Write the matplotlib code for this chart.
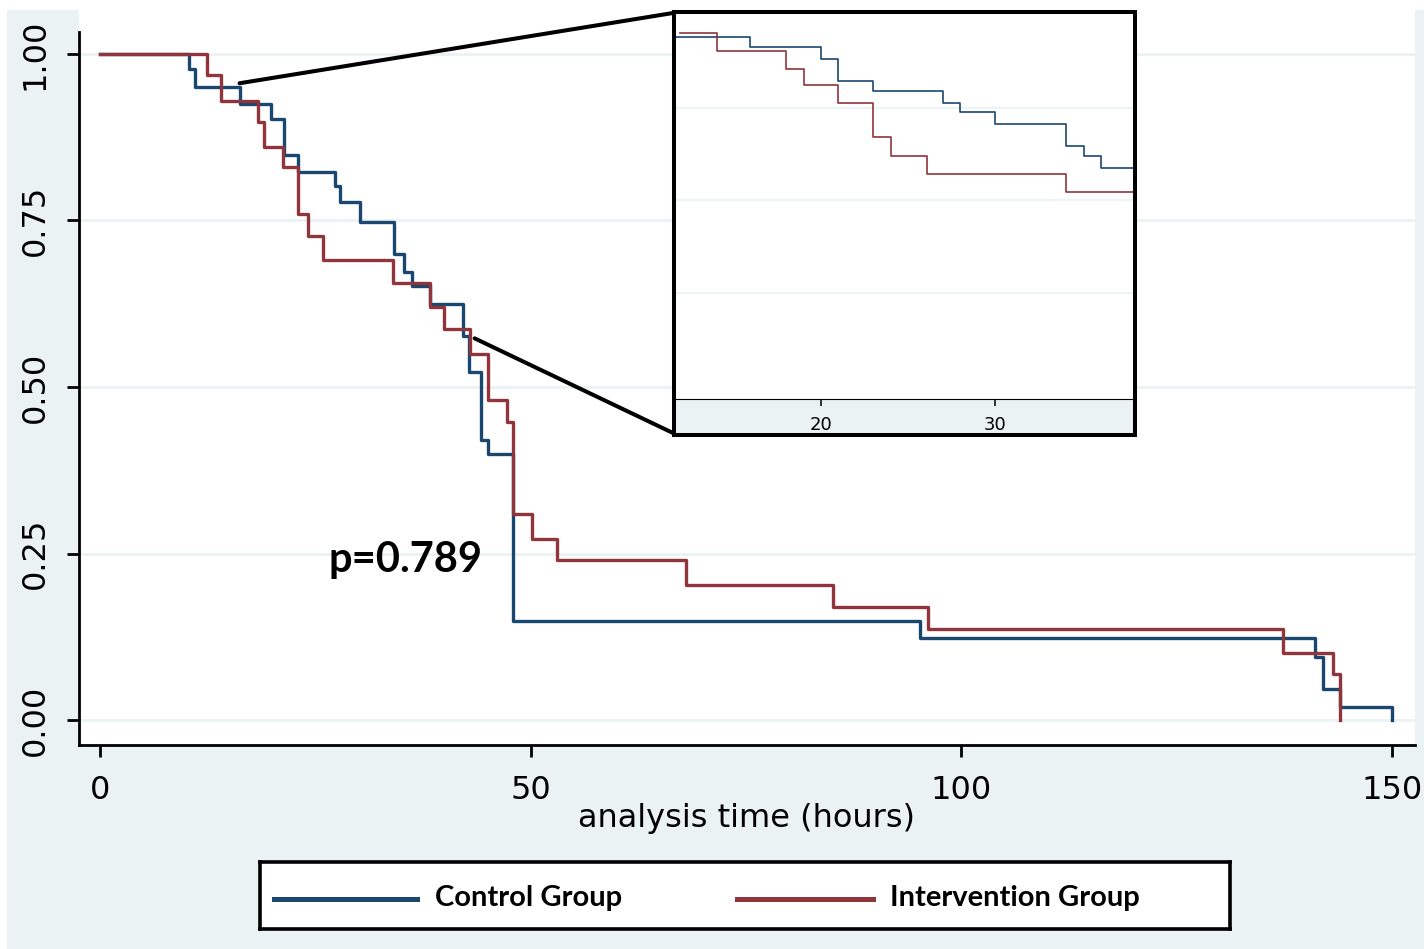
import matplotlib
matplotlib.use("Agg")
import matplotlib.pyplot as plt
from matplotlib.patches import Rectangle, ConnectionPatch

# -----------------------------------------------------
# Data (Kaplan-Meier steps)
# -----------------------------------------------------

control_time = [0, 10.3, 11.0, 16.2, 19.9, 21.4, 23.0, 27.3, 27.9, 30.2, 34.1,
                35.3, 36.2, 38.3, 42.2, 42.9, 44.2, 45.1, 48.0, 95.2, 141.1,
                142.0, 144.0, 150.0]
control_surv = [1.0, 0.978, 0.950, 0.925, 0.903, 0.849, 0.823, 0.802, 0.777,
                0.748, 0.700, 0.673, 0.652, 0.625, 0.577, 0.523, 0.420, 0.399,
                0.148, 0.123, 0.095, 0.047, 0.020, 0.0]

interv_time = [0, 12.4, 14.1, 18.3, 19.0, 21.3, 23.0, 24.2, 25.9, 34.0, 38.3,
               39.9, 43.0, 45.1, 47.3, 48.0, 50.2, 53.1, 68.0, 85.1, 96.1,
               137.3, 143.2, 144.0]
interv_surv = [1.0, 0.968, 0.930, 0.898, 0.861, 0.831, 0.760, 0.727, 0.691,
               0.656, 0.620, 0.587, 0.550, 0.480, 0.448, 0.309, 0.272, 0.240,
               0.203, 0.170, 0.137, 0.101, 0.069, 0.0]

# zoomed inset (its own curves)
inset_control_time = [10.0, 15.9, 20.0, 21.0, 23.0, 27.0, 28.0, 30.0, 34.1, 35.1, 36.1, 40.0]
inset_control_surv = [0.943, 0.914, 0.882, 0.823, 0.797, 0.764, 0.738, 0.706, 0.647, 0.620, 0.587, 0.587]
inset_interv_time = [11.9, 14.0, 18.0, 19.0, 21.0, 23.0, 24.0, 26.1, 34.1, 40.0]
inset_interv_surv = [0.952, 0.904, 0.855, 0.812, 0.764, 0.670, 0.620, 0.572, 0.523, 0.523]

x_ticks = [0, 50, 100, 150]
y_ticks = [0.0, 0.25, 0.5, 0.75, 1.0]
y_ticklabels = ["0.00", "0.25", "0.50", "0.75", "1.00"]
inset_ticks = [20, 30]
p_text = "p=0.789"
labels = ["Control Group", "Intervention Group"]

BLUE = "#1a476f"
RED = "#90353b"
BG = "#eaf2f3"

W, H = 1424, 949


def fx(px):
    return px / W


def fy(py):
    return 1 - py / H


fig = plt.figure(figsize=(W / 100, H / 100), dpi=100, facecolor="white")

# light Stata-style background
fig.add_artist(Rectangle((fx(7), 0), 1 - fx(7), fy(10), transform=fig.transFigure,
                         facecolor=BG, edgecolor="none", zorder=-1))

# -----------------------------------------------------
# Main axes
# -----------------------------------------------------
ax = fig.add_axes([fx(79), fy(745), fx(1415) - fx(79), fy(0) - fy(745)])
ax.set_facecolor("white")

ax.step(control_time, control_surv, where="post", color=BLUE, lw=2.4)
ax.step(interv_time, interv_surv, where="post", color=RED, lw=2.4)

ax.set_xlim(-2.44, 152.68)
ax.set_ylim(-0.0375, 1.081)

ax.set_xticks(x_ticks)
ax.set_yticks(y_ticks)
ax.set_yticklabels(y_ticklabels, rotation=90, va="center")
ax.tick_params(axis="both", length=8.6, width=2, labelsize=23, color="black")
ax.tick_params(axis="x", pad=13)
ax.tick_params(axis="y", pad=12)

ax.yaxis.grid(True, color=BG, lw=2)
ax.xaxis.grid(False)

for side in ["top", "right"]:
    ax.spines[side].set_visible(False)
for side in ["left", "bottom"]:
    ax.spines[side].set_linewidth(2)
ax.spines["left"].set_bounds(-0.0375, 1.033)

ax.set_xlabel("analysis time (hours)", fontsize=23, labelpad=-2)

ax.text(26.5, 0.222, p_text, fontsize=30, fontweight="bold", family="Lato",
        ha="left", va="baseline")

# -----------------------------------------------------
# Inset
# -----------------------------------------------------
fig.add_artist(Rectangle((fx(676), fy(433)), fx(1133) - fx(676), fy(399) - fy(433),
                         transform=fig.transFigure, facecolor=BG, edgecolor="none", zorder=1))

axin = fig.add_axes([fx(676), fy(399), fx(1133) - fx(676), fy(14) - fy(399)], zorder=2)
axin.step(inset_control_time, inset_control_surv, where="post", color=BLUE, lw=1.2)
axin.step(inset_interv_time, inset_interv_surv, where="post", color=RED, lw=1.2)
axin.set_xlim(11.67, 37.93)
axin.set_ylim(-0.0373, 1.004)
axin.set_xticks(inset_ticks)
axin.set_yticks([0.25, 0.5, 0.75])
axin.yaxis.grid(True, color=BG, lw=1.2)
axin.set_axisbelow(True)
axin.tick_params(axis="x", length=5, width=1.1, labelsize=13, pad=7)
axin.tick_params(axis="y", length=0, labelleft=False)
for side in ["top", "right", "left"]:
    axin.spines[side].set_visible(False)
axin.spines["bottom"].set_linewidth(0.8)

fig.add_artist(Rectangle((fx(674), fy(435)), fx(1135) - fx(674), fy(12) - fy(435),
                         transform=fig.transFigure, facecolor="none", edgecolor="black",
                         lw=2.9, zorder=3))

# zoom connector lines
for xy_main, corner in [((16.2, 0.956), (fx(673), fy(13))),
                        ((43.5, 0.573), (fx(673), fy(433)))]:
    con = ConnectionPatch(xyA=xy_main, coordsA=ax.transData,
                          xyB=corner, coordsB=fig.transFigure,
                          color="black", lw=2.9, zorder=3)
    fig.add_artist(con)

# -----------------------------------------------------
# Legend box
# -----------------------------------------------------
lax = fig.add_axes([fx(260), fy(929), fx(1230) - fx(260), fy(862) - fy(929)])
lax.set_xlim(0, 1)
lax.set_ylim(0, 1)
lax.set_xticks([])
lax.set_yticks([])
for s in lax.spines.values():
    s.set_linewidth(2.6)
    s.set_color("black")

lax.plot([0.0144, 0.162], [0.45, 0.45], color=BLUE, lw=3.6)
lax.text(0.180, 0.343, labels[0], fontsize=21, fontweight="bold", family="Lato",
         ha="left", va="baseline")
lax.plot([0.492, 0.632], [0.45, 0.45], color=RED, lw=3.6)
lax.text(0.650, 0.343, labels[1], fontsize=21, fontweight="bold", family="Lato",
         ha="left", va="baseline")

fig.savefig("out.png", dpi=100, facecolor=fig.get_facecolor())
